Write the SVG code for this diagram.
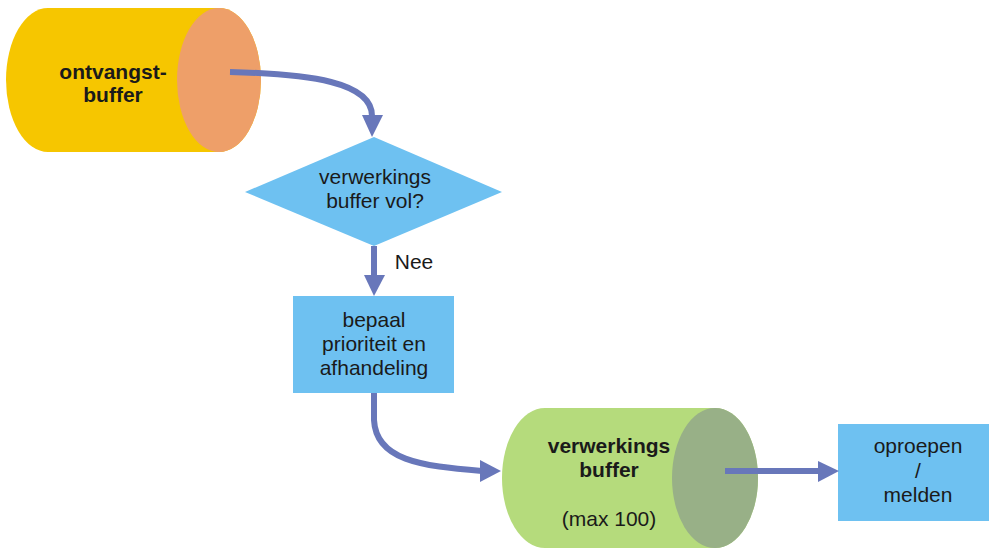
<svg xmlns="http://www.w3.org/2000/svg" width="989" height="548" viewBox="0 0 989 548">
<style>
text{font-family:"Liberation Sans",Arial,sans-serif;font-size:21px;fill:#1a1a1a;text-anchor:middle}
.b{font-weight:bold}
.con{fill:none;stroke:#6877BA;stroke-width:6}
.head{fill:#6877BA}
.box{fill:#6EC1F1}
</style>
<rect width="989" height="548" fill="#ffffff"/>
<g id="ontvangstbuffer">
<path d="M48,8 H219 A42,72 0 0 1 219,152 H48 A42,72 0 0 1 48,8 Z" fill="#F6C600"/>
<ellipse cx="219" cy="80" rx="42" ry="72" fill="#EE9F69"/>
<text class="b" x="113" y="79">ontvangst-</text>
<text class="b" x="113" y="102">buffer</text>
</g>
<g id="decision">
<polygon points="374,137 502,192 374,246 245,192" class="box"/>
<text x="375" y="184">verwerkings</text>
<text x="375" y="208">buffer vol?</text>
</g>
<g id="bepaal">
<rect x="293" y="296" width="161" height="97" class="box"/>
<text x="374" y="327">bepaal</text>
<text x="374" y="351">prioriteit en</text>
<text x="374" y="375">afhandeling</text>
</g>
<g id="verwerkingsbuffer">
<path d="M545,408 H715 A43,70 0 0 1 715,548 H545 A43,70 0 0 1 545,408 Z" fill="#B5DB7C"/>
<ellipse cx="715" cy="478" rx="43" ry="70" fill="#98B087"/>
<text class="b" x="609" y="453">verwerkings</text>
<text class="b" x="609" y="477">buffer</text>
<text x="609" y="526">(max 100)</text>
</g>
<g id="oproepen">
<rect x="838" y="424" width="151" height="97" class="box"/>
<text x="918" y="453">oproepen</text>
<text x="918" y="478">/</text>
<text x="918" y="502">melden</text>
</g>
<g id="connectors">
<path class="con" d="M230,72 C310,74 372,82 372,116"/>
<polygon class="head" points="362,115 383,115 372,137"/>
<path class="con" d="M374,246 V276"/>
<polygon class="head" points="364,275 385,275 374,296"/>
<text x="414" y="269" style="text-anchor:middle">Nee</text>
<path class="con" d="M374,393 L374,420 C376,460 420,466 482,471"/>
<polygon class="head" points="480,460 480,482 501,471"/>
<path class="con" d="M725,471 H820"/>
<polygon class="head" points="818,461 818,482 839,471"/>
</g>
</svg>
